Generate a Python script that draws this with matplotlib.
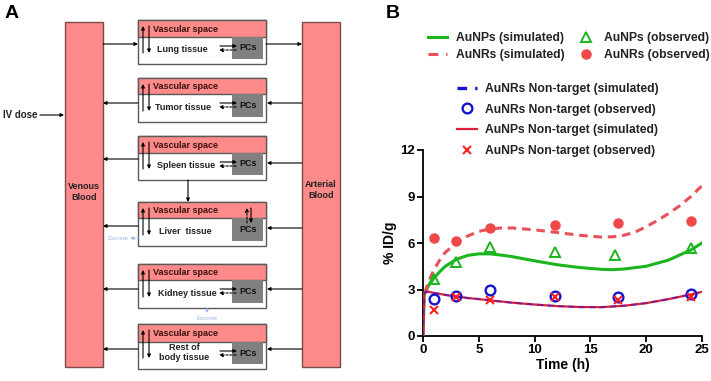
import matplotlib
matplotlib.use("Agg")
import matplotlib.pyplot as plt
from matplotlib.patches import Rectangle

plt.rcParams['font.family'] = ['Liberation Sans', 'DejaVu Sans']

# ---------------- data (panel B) ----------------
t_sim_np = [0, 0.1, 0.25, 0.5, 1, 1.5, 2, 3, 4, 5, 6, 7, 8, 10, 12, 14, 16, 17, 18, 20, 22, 24, 25]
aunp_sim = [0, 2.6, 2.9, 3.25, 3.75, 4.15, 4.5, 4.95, 5.2, 5.3, 5.3, 5.22, 5.12, 4.85, 4.6, 4.42, 4.3, 4.28, 4.32, 4.5, 4.9, 5.55, 6.0]

t_sim_nr = [0, 0.1, 0.25, 0.5, 1, 1.5, 2, 3, 4, 5, 6, 7, 8, 10, 12, 14, 16, 17, 18, 19, 20, 21, 22, 23, 24, 25]
aunr_sim = [0, 2.6, 3.0, 3.5, 4.3, 4.9, 5.4, 6.0, 6.45, 6.75, 6.9, 6.97, 6.97, 6.85, 6.68, 6.5, 6.38, 6.4, 6.5, 6.7, 7.05, 7.45, 7.9, 8.4, 9.0, 9.7]

t_sim_nt = [0, 0.1, 0.25, 0.5, 1, 2, 3, 4, 5, 6, 8, 10, 12, 14, 16, 18, 20, 22, 24, 25]
aunr_nt_sim = [0, 2.7, 2.85, 2.85, 2.78, 2.65, 2.55, 2.45, 2.38, 2.3, 2.15, 2.03, 1.93, 1.87, 1.86, 1.95, 2.12, 2.38, 2.68, 2.85]
aunp_nt_sim = [0, 2.7, 2.85, 2.85, 2.78, 2.65, 2.55, 2.45, 2.38, 2.3, 2.15, 2.03, 1.93, 1.87, 1.86, 1.95, 2.12, 2.38, 2.68, 2.85]

t_obs_np = [1, 3, 6, 11.8, 17.2, 24]
aunp_obs = [3.7, 4.75, 5.75, 5.4, 5.25, 5.7]
t_obs_nr = [1, 3, 6, 11.8, 17.5, 24]
aunr_obs = [6.3, 6.1, 7.0, 7.15, 7.3, 7.45]
t_obs_nt = [1, 3, 6, 11.8, 17.5, 24]
aunr_nt_obs = [2.4, 2.6, 2.95, 2.6, 2.5, 2.7]
aunp_nt_obs = [1.7, 2.5, 2.35, 2.5, 2.35, 2.5]

x_ticks = [0, 5, 10, 15, 20, 25]
y_ticks = [0, 3, 6, 9, 12]

# ---------------- data (panel A diagram) ----------------
organ_names = ["Lung tissue", "Tumor tissue", "Spleen tissue", "Liver  tissue", "Kidney tissue", "Rest of\nbody tissue"]

W, H = 711, 381
fig = plt.figure(figsize=(W / 100, H / 100), dpi=100)
ax0 = fig.add_axes([0, 0, 1, 1])
ax0.set_xlim(0, W)
ax0.set_ylim(H, 0)
ax0.axis('off')

SALMON = '#FF8A8A'
BORDER = '#5a5a5a'
FS = 6.5


def arrow(x0, y0, x1, y1, dashed=False, color='black', lw=0.8):
    ax0.annotate('', xy=(x1, y1), xytext=(x0, y0),
                 arrowprops=dict(arrowstyle='-|>', lw=lw, color=color, mutation_scale=5,
                                 shrinkA=0, shrinkB=0, linestyle=(0, (2, 1.5)) if dashed else '-'))


# blood columns
ax0.add_patch(Rectangle((65, 22), 38, 345, facecolor=SALMON, edgecolor='#7a4a4a', lw=1))
ax0.add_patch(Rectangle((302, 22), 38, 345, facecolor=SALMON, edgecolor='#7a4a4a', lw=1))
ax0.text(84, 192, "Venous\nBlood", ha='center', va='center', fontsize=FS, fontweight='bold', color='#222222', linespacing=1.3)
ax0.text(321, 190, "Arterial\nBlood", ha='center', va='center', fontsize=FS, fontweight='bold', color='#222222', linespacing=1.3)

# organ boxes: top, header bottom, bottom
tops = [20, 78, 136, 202, 264, 324]
hdrs = [37, 94, 153, 218, 280, 342]
bots = [64, 122, 180, 246, 308, 369]
label_x = [182, 183, 186, 185, 187, 184]
right_y = [44, 103, 163, 228, 289, 349]
left_y = [44, 103, 159, 226, 289, 349]
bx0, bx1 = 138, 266

for i, name in enumerate(organ_names):
    top, hd, bt = tops[i], hdrs[i], bots[i]
    ax0.add_patch(Rectangle((bx0, top), bx1 - bx0, bt - top, facecolor='white', edgecolor=BORDER, lw=1, zorder=1))
    ax0.add_patch(Rectangle((bx0, top), bx1 - bx0, hd - top, facecolor=SALMON, edgecolor=BORDER, lw=1, zorder=2))
    pcs_bot = bt - 5
    ax0.add_patch(Rectangle((232, hd), 31, pcs_bot - hd, facecolor='#808080', edgecolor='none', zorder=2))
    ax0.text(153, (top + hd) / 2 + 0.5, "Vascular space", ha='left', va='center', fontsize=FS, fontweight='bold', color='#3a1010', zorder=3)
    if i == 5:
        ax0.text(label_x[i], 347, "Rest of", ha='center', va='center', fontsize=FS, fontweight='bold', color='#222222')
        ax0.text(label_x[i], 358, "body tissue", ha='center', va='center', fontsize=FS, fontweight='bold', color='#222222')
    else:
        ax0.text(label_x[i], (hd + bt) / 2 - 1, name, ha='center', va='center', fontsize=FS, fontweight='bold', color='#222222')
    pcs_y = (hd + pcs_bot) / 2
    ax0.text(248, pcs_y, "PCs", ha='center', va='center', fontsize=FS, fontweight='bold', color='#111111', zorder=3)
    # vascular <-> tissue arrows
    arrow(143, bt - 11, 143, top + 6)
    arrow(149, top + 6, 149, bt - 11)
    # tissue <-> PCs arrows (not for liver)
    if i != 3:
        arrow(220, hd + 9, 237, hd + 9)
        arrow(236, hd + 13, 219, hd + 13, dashed=True)
    else:
        arrow(247, hd + 5, 247, top + 6, dashed=True)
        arrow(251, top + 6, 251, hd + 5)
    # connections to blood
    if i == 0:
        arrow(103, left_y[i], bx0, left_y[i])
        arrow(bx1, right_y[i], 302, right_y[i])
    else:
        arrow(302, right_y[i], bx1 + 1, right_y[i])
        arrow(bx0, left_y[i], 103, left_y[i])

# spleen -> liver
arrow(188, 180, 188, 202)
# IV dose
ax0.text(3, 115, "IV dose", ha='left', va='center', fontsize=7, fontweight='bold', color='#222222')
arrow(40, 115, 64, 115)
# excretion
EXC = '#9DB7E6'
arrow(139, 238, 130, 238, dashed=True, color=EXC, lw=0.7)
ax0.text(129, 238, "Excrete", ha='right', va='center', fontsize=4.5, color=EXC)
arrow(207, 308, 207, 313, dashed=True, color=EXC, lw=0.7)
ax0.text(207, 318, "Excrete", ha='center', va='center', fontsize=4.5, color=EXC)

# panel letters
ax0.text(5, 13, "A", ha='left', va='center', fontsize=14, fontweight='bold')
ax0.text(386, 14, "B", ha='left', va='center', fontsize=14, fontweight='bold')

# ---------------- panel B ----------------
L, R, T, B = 423, 702, 150, 336
ax = fig.add_axes([L / W, (H - B) / H, (R - L) / W, (B - T) / H])
ax.patch.set_alpha(0)
GREEN = '#1DB51D'
PINK = '#E8505C'
RED = '#FF2020'
BLUE = '#1414D2'
DASH = (0, (2.8, 1.9))

l1, = ax.plot(t_sim_np, aunp_sim, color=GREEN, lw=2.2, label='AuNPs (simulated)', zorder=3)
l2, = ax.plot(t_sim_nr, aunr_sim, color=PINK, lw=2.2, ls=DASH, label='AuNRs (simulated)', zorder=3)
l5, = ax.plot(t_sim_nt, aunp_nt_sim, color='#E0203A', lw=1.6, label='AuNPs Non-target (simulated)', zorder=3)
l3, = ax.plot(t_sim_nt, aunr_nt_sim, color=BLUE, lw=1.6, ls=DASH, alpha=0.45, label='AuNRs Non-target (simulated)', zorder=3)
m1, = ax.plot(t_obs_np, aunp_obs, ls='none', marker='^', ms=7, mfc='none', mec=GREEN, mew=1.4, label='AuNPs (observed)', zorder=4)
m2, = ax.plot(t_obs_nr, aunr_obs, ls='none', marker='o', ms=6.5, mfc='#F04848', mec='#F04848', label='AuNRs (observed)', zorder=4)
m3, = ax.plot(t_obs_nt, aunr_nt_obs, ls='none', marker='o', ms=7, mfc='none', mec=BLUE, mew=1.7, label='AuNRs Non-target (observed)', zorder=4)
m4, = ax.plot(t_obs_nt, aunp_nt_obs, ls='none', marker='x', ms=6, mec=RED, mew=1.5, label='AuNPs Non-target (observed)', zorder=5)

# legend proxies (dash pattern showing two dashes as in the reference)
l2_leg, = ax.plot([], [], color=PINK, lw=2.2, ls=(0, (3.2, 2.6)))
l3_leg, = ax.plot([], [], color=BLUE, lw=2.4, ls=(0, (2.9, 2.4)))

ax.set_xlim(0, 25)
ax.set_ylim(0, 12)
ax.set_xticks(x_ticks)
ax.set_yticks(y_ticks)
for s in ['top', 'right']:
    ax.spines[s].set_visible(False)
for s in ['left', 'bottom']:
    ax.spines[s].set_linewidth(1.3)
ax.tick_params(width=1.3, length=4, labelsize=9.5, pad=2)
for lab in ax.get_xticklabels() + ax.get_yticklabels():
    lab.set_fontweight('bold')
ax.set_xlabel("Time (h)", fontsize=10, fontweight='bold', labelpad=1)
ax.set_ylabel("% ID/g", fontsize=10, fontweight='bold', labelpad=2)

prop = dict(weight='bold', size=8.7)
leg1 = fig.legend([l1, l2_leg, m1, m2], ['AuNPs (simulated)', 'AuNRs (simulated)', 'AuNPs (observed)', 'AuNRs (observed)'],
                  ncol=2, loc='upper left', bbox_to_anchor=(428, 32), bbox_transform=ax0.transData,
                  frameon=False, prop=prop, handlelength=1.6, handletextpad=0.7, columnspacing=1.0,
                  labelspacing=0.42, borderpad=0, borderaxespad=0, numpoints=1)
leg2 = fig.legend([l3_leg, m3, l5, m4], ['AuNRs Non-target (simulated)', 'AuNRs Non-target (observed)',
                                         'AuNPs Non-target (simulated)', 'AuNPs Non-target (observed)'],
                  loc='upper left', bbox_to_anchor=(457, 83), bbox_transform=ax0.transData,
                  frameon=False, prop=prop, handlelength=1.65, handletextpad=0.65,
                  labelspacing=0.72, borderpad=0, borderaxespad=0, numpoints=1)
for leg in (leg1, leg2):
    for txt in leg.get_texts():
        txt.set_color('#222222')

fig.savefig("out.png", dpi=100)
